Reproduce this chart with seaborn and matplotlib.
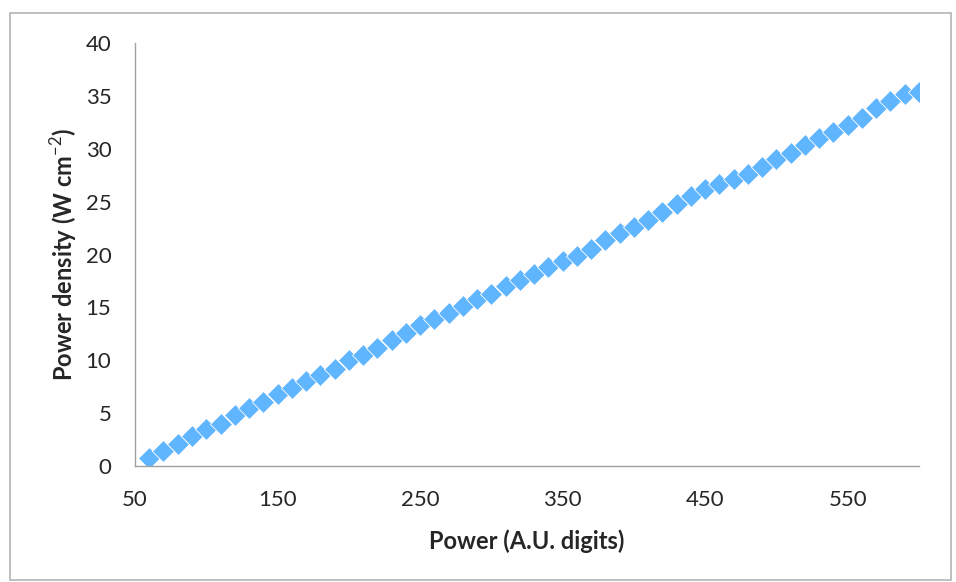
import pandas as pd
import matplotlib.pyplot as plt
import seaborn as sns
from matplotlib.patches import Rectangle

# Power setting (A.U. digits) and measured power density (W cm^-2)
power = [60, 70, 80, 90, 100, 110, 120, 130, 140, 150,
         160, 170, 180, 190, 200, 210, 220, 230, 240, 250,
         260, 270, 280, 290, 300, 310, 320, 330, 340, 350,
         360, 370, 380, 390, 400, 410, 420, 430, 440, 450,
         460, 470, 480, 490, 500, 510, 520, 530, 540, 550,
         560, 570, 580, 590, 600]
density = [0.8, 1.4, 2.1, 2.8, 3.5, 4.0, 4.8, 5.5, 6.1, 6.8,
           7.4, 8.0, 8.6, 9.2, 10.0, 10.5, 11.2, 11.9, 12.6, 13.3,
           13.9, 14.5, 15.1, 15.8, 16.3, 17.0, 17.6, 18.2, 18.8, 19.4,
           19.9, 20.5, 21.4, 22.0, 22.6, 23.3, 24.0, 24.8, 25.5, 26.2,
           26.7, 27.1, 27.6, 28.3, 29.0, 29.6, 30.4, 31.0, 31.6, 32.2,
           32.9, 33.9, 34.5, 35.2, 35.4]

x_ticks = [50, 150, 250, 350, 450, 550]
y_ticks = [0, 5, 10, 15, 20, 25, 30, 35, 40]

df = pd.DataFrame({'Power': power, 'Density': density})

sns.set_style("white")
plt.rcParams['font.family'] = ['Lato', 'DejaVu Sans']
plt.rcParams['mathtext.fontset'] = 'custom'
plt.rcParams['mathtext.rm'] = 'Lato'
plt.rcParams['mathtext.bf'] = 'Lato:bold'

fig = plt.figure(figsize=(9.56, 5.82), dpi=100)
ax = fig.add_axes([0.1412, 0.1993, 0.8201, 0.7268])

sns.scatterplot(data=df, x='Power', y='Density', marker='D', s=125,
                color='#60B5FF', edgecolor='white', linewidth=0.6, ax=ax)

ax.set_xlim(50, 600)
ax.set_ylim(0, 40)
ax.set_xticks(x_ticks)
ax.set_yticks(y_ticks)

for side in ['top', 'right']:
    ax.spines[side].set_visible(False)
for side in ['left', 'bottom']:
    ax.spines[side].set_color('#a0a0a0')
    ax.spines[side].set_linewidth(1.0)

ax.tick_params(axis='both', direction='out', length=5, width=1.0,
               color='#a0a0a0', labelsize=16, labelcolor='#262626')
ax.tick_params(axis='x', pad=12)
ax.tick_params(axis='y', pad=12)

ax.set_xlabel('Power (A.U. digits)', fontsize=17, fontweight='bold',
              color='#262626', labelpad=14)
ax.set_ylabel('Power density (W cm$^{-2}$)', fontsize=17, fontweight='bold',
              color='#262626', labelpad=4)

# chart area border
fig.patches.append(Rectangle((10 / 956, 2 / 582), 941 / 956, 567 / 582,
                             transform=fig.transFigure, fill=False,
                             edgecolor='#b4b4b4', linewidth=1.2))

fig.savefig('out.png', dpi=100)
